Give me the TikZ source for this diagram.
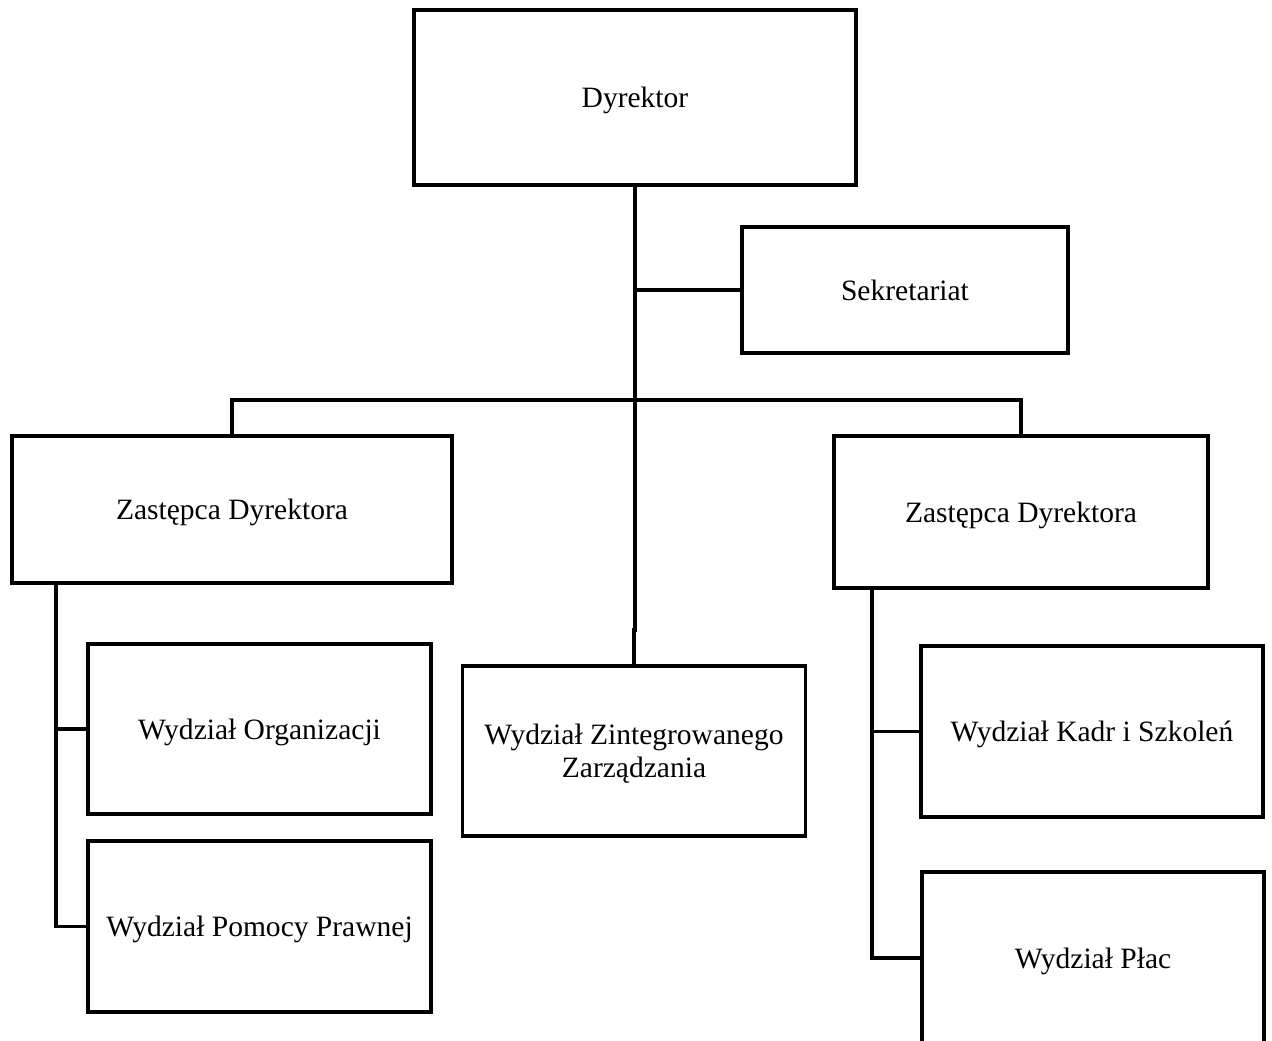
\documentclass[tikz,border=0pt]{standalone}
\usepackage{fontspec}
\setmainfont{Liberation Serif}
\usetikzlibrary{positioning}

\begin{document}
\begin{tikzpicture}[
    x=0.02cm,
    y=-0.02cm,
    line width=2pt,
    unit node/.style={rectangle,draw,inner sep=0pt,align=center,text depth=0pt,font=\fontsize{16.8}{19}\selectfont},
    link/.style={line width=1.9pt}
]
\useasboundingbox (0,0) rectangle (1272,1041);

% Director
\node[unit node, minimum width=8.84cm, minimum height=3.5cm] (dyrektor) at (635,97.5) {Dyrektor};

% Secretariat
\node[unit node, minimum width=6.52cm, minimum height=2.52cm] (sekretariat) at (905,290) {Sekretariat};

% Deputies
\node[unit node, minimum width=8.8cm, minimum height=2.94cm] (zastl) at (232,509.5) {Zastępca Dyrektora};
\node[unit node, minimum width=7.48cm, minimum height=3.04cm] (zastr) at (1021,512) {Zastępca Dyrektora};

% Departments
\node[unit node, minimum width=6.86cm, minimum height=3.4cm] (organizacji) at (259.5,729) {Wydział Organizacji};
\node[unit node, minimum width=6.86cm, minimum height=3.42cm] (pomocy) at (259.5,926.5) {Wydział Pomocy Prawnej};
\node[unit node, minimum width=6.86cm, minimum height=3.4cm] (zint) at (634,751) {Wydział Zintegrowanego\\Zarządzania};
\node[unit node, minimum width=6.84cm, minimum height=3.42cm] (kadr) at (1092,731.5) {Wydział Kadr i Szkoleń};
\node[unit node, minimum width=6.84cm, minimum height=3.44cm] (placu) at (1093,958) {Wydział Płac};

% Junctions
\coordinate (jog) at (635,630);
\coordinate (bar) at (635,400);
\coordinate (lspine) at (56,583);
\coordinate (rspine) at (872,588);

% Lines
\draw[link] (dyrektor.south) -- (jog) -- (jog -| zint.north) -- (zint.north);
\draw[link] (dyrektor.south |- sekretariat.west) -- (sekretariat.west);
\draw[link] (zastl.north) |- (bar) -| (zastr.north);

\draw[link] (lspine) |- (organizacji.west);
\draw[link] (lspine) |- (pomocy.west);

\draw[link] (rspine) |- (kadr.west);
\draw[link] (rspine) |- (placu.west);

\end{tikzpicture}
\end{document}
